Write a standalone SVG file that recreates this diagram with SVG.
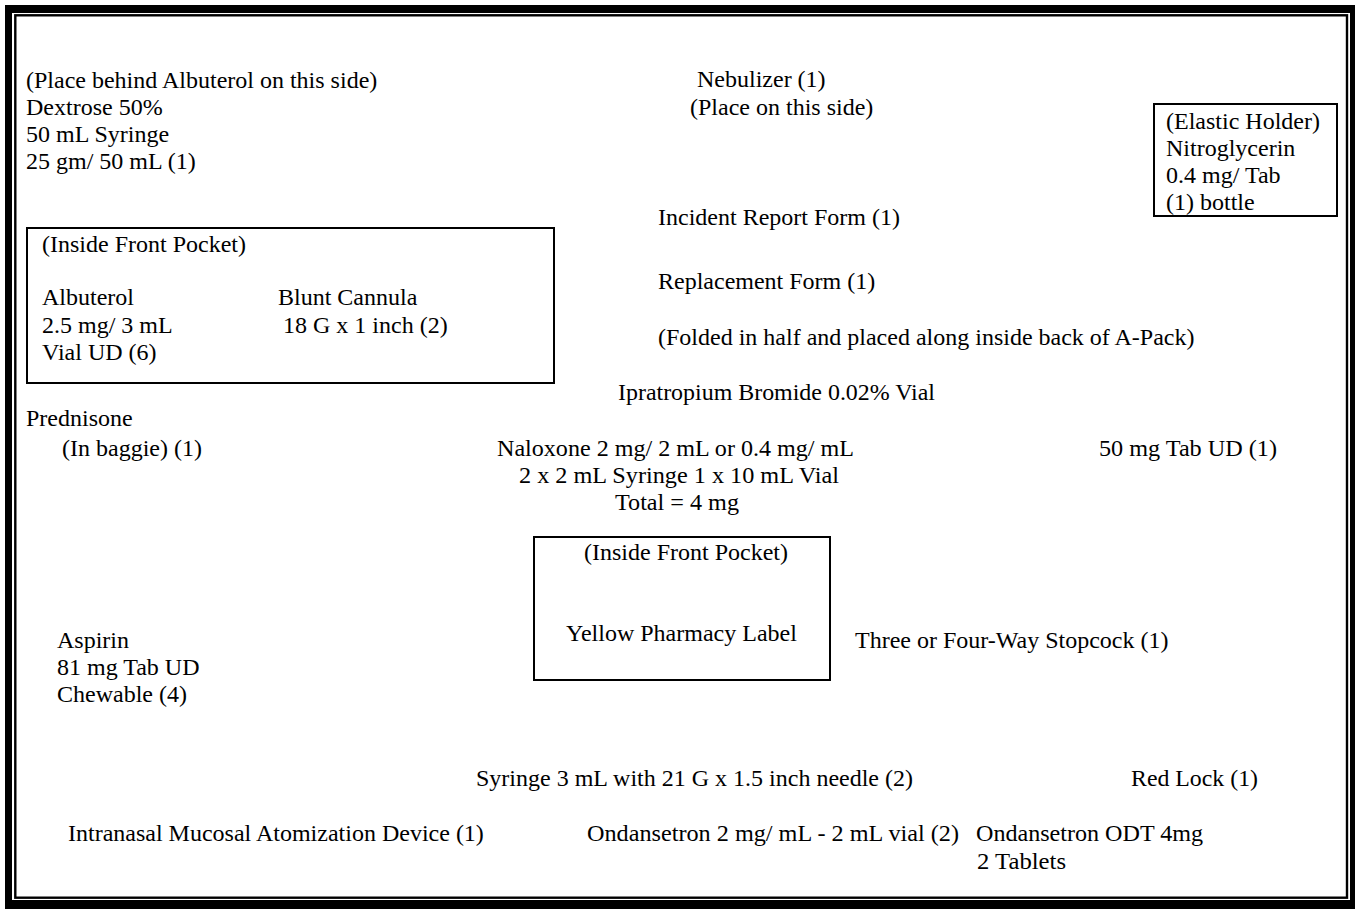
<svg xmlns="http://www.w3.org/2000/svg" width="1355" height="909" viewBox="0 0 1355 909">
<style>
text{font-family:"Liberation Serif","Times New Roman",serif;font-size:24px;fill:#000}
.box{fill:none;stroke:#000;stroke-width:2}
.c{text-anchor:middle}
</style>
<rect x="0" y="0" width="1355" height="909" fill="#fff"/>
<g id="border">
<rect x="5" y="5" width="1360" height="910" fill="#000"/>
<rect x="12" y="13" width="1338" height="887" fill="#fff"/>
<rect x="15.3" y="15.3" width="1331.7" height="882.4" fill="none" stroke="#000" stroke-width="2.4"/>
</g>
<g id="dextrose">
<text x="26" y="88">(Place behind Albuterol on this side)</text>
<text x="26" y="115">Dextrose 50%</text>
<text x="26" y="142">50 mL Syringe</text>
<text x="26" y="169">25 gm/ 50 mL (1)</text>
</g>
<g id="nebulizer">
<text x="697" y="87">Nebulizer (1)</text>
<text x="690" y="115">(Place on this side)</text>
</g>
<g id="nitroglycerin">
<rect class="box" x="1154" y="104" width="183" height="112"/>
<text x="1166" y="129">(Elastic Holder)</text>
<text x="1166" y="156">Nitroglycerin</text>
<text x="1166" y="183">0.4 mg/ Tab</text>
<text x="1166" y="210">(1) bottle</text>
</g>
<g id="forms">
<text x="658" y="225">Incident Report Form (1)</text>
<text x="658" y="289">Replacement Form (1)</text>
<text x="658" y="345">(Folded in half and placed along inside back of A-Pack)</text>
</g>
<g id="front-pocket-left">
<rect class="box" x="27" y="228" width="527" height="155"/>
<text x="42" y="252">(Inside Front Pocket)</text>
<text x="42" y="305">Albuterol</text>
<text x="42" y="333">2.5 mg/ 3 mL</text>
<text x="42" y="360">Vial UD (6)</text>
<text x="278" y="305">Blunt Cannula</text>
<text x="283" y="333">18 G x 1 inch (2)</text>
</g>
<g id="ipratropium">
<text x="618" y="400" textLength="317" lengthAdjust="spacingAndGlyphs">Ipratropium Bromide 0.02% Vial</text>
</g>
<g id="prednisone">
<text x="26" y="426">Prednisone</text>
<text x="62" y="456">(In baggie) (1)</text>
<text x="1099" y="456" textLength="178" lengthAdjust="spacingAndGlyphs">50 mg Tab UD (1)</text>
</g>
<g id="naloxone">
<text x="497" y="456" textLength="357" lengthAdjust="spacingAndGlyphs">Naloxone 2 mg/ 2 mL or 0.4 mg/ mL</text>
<text x="519" y="483" textLength="320" lengthAdjust="spacingAndGlyphs">2 x 2 mL Syringe 1 x 10 mL Vial</text>
<text x="615" y="510" textLength="124" lengthAdjust="spacingAndGlyphs">Total = 4 mg</text>
</g>
<g id="front-pocket-center">
<rect class="box" x="534" y="537" width="296" height="143"/>
<text class="c" x="686" y="560">(Inside Front Pocket)</text>
<text x="566" y="641">Yellow Pharmacy Label</text>
</g>
<g id="stopcock">
<text x="855" y="648">Three or Four-Way Stopcock (1)</text>
</g>
<g id="aspirin">
<text x="57" y="648">Aspirin</text>
<text x="57" y="675">81 mg Tab UD</text>
<text x="57" y="702">Chewable (4)</text>
</g>
<g id="syringe">
<text x="476" y="786" textLength="437" lengthAdjust="spacingAndGlyphs">Syringe 3 mL with 21 G x 1.5 inch needle (2)</text>
</g>
<g id="redlock">
<text x="1131" y="786" textLength="127" lengthAdjust="spacingAndGlyphs">Red Lock (1)</text>
</g>
<g id="atomizer">
<text x="68" y="841">Intranasal Mucosal Atomization Device (1)</text>
</g>
<g id="ondansetron">
<text x="587" y="841" textLength="372" lengthAdjust="spacingAndGlyphs">Ondansetron 2 mg/ mL - 2 mL vial (2)</text>
<text x="976" y="841" textLength="227" lengthAdjust="spacingAndGlyphs">Ondansetron ODT 4mg</text>
<text x="977" y="869" textLength="89" lengthAdjust="spacingAndGlyphs">2 Tablets</text>
</g>
<g id="connectors"></g>
</svg>
